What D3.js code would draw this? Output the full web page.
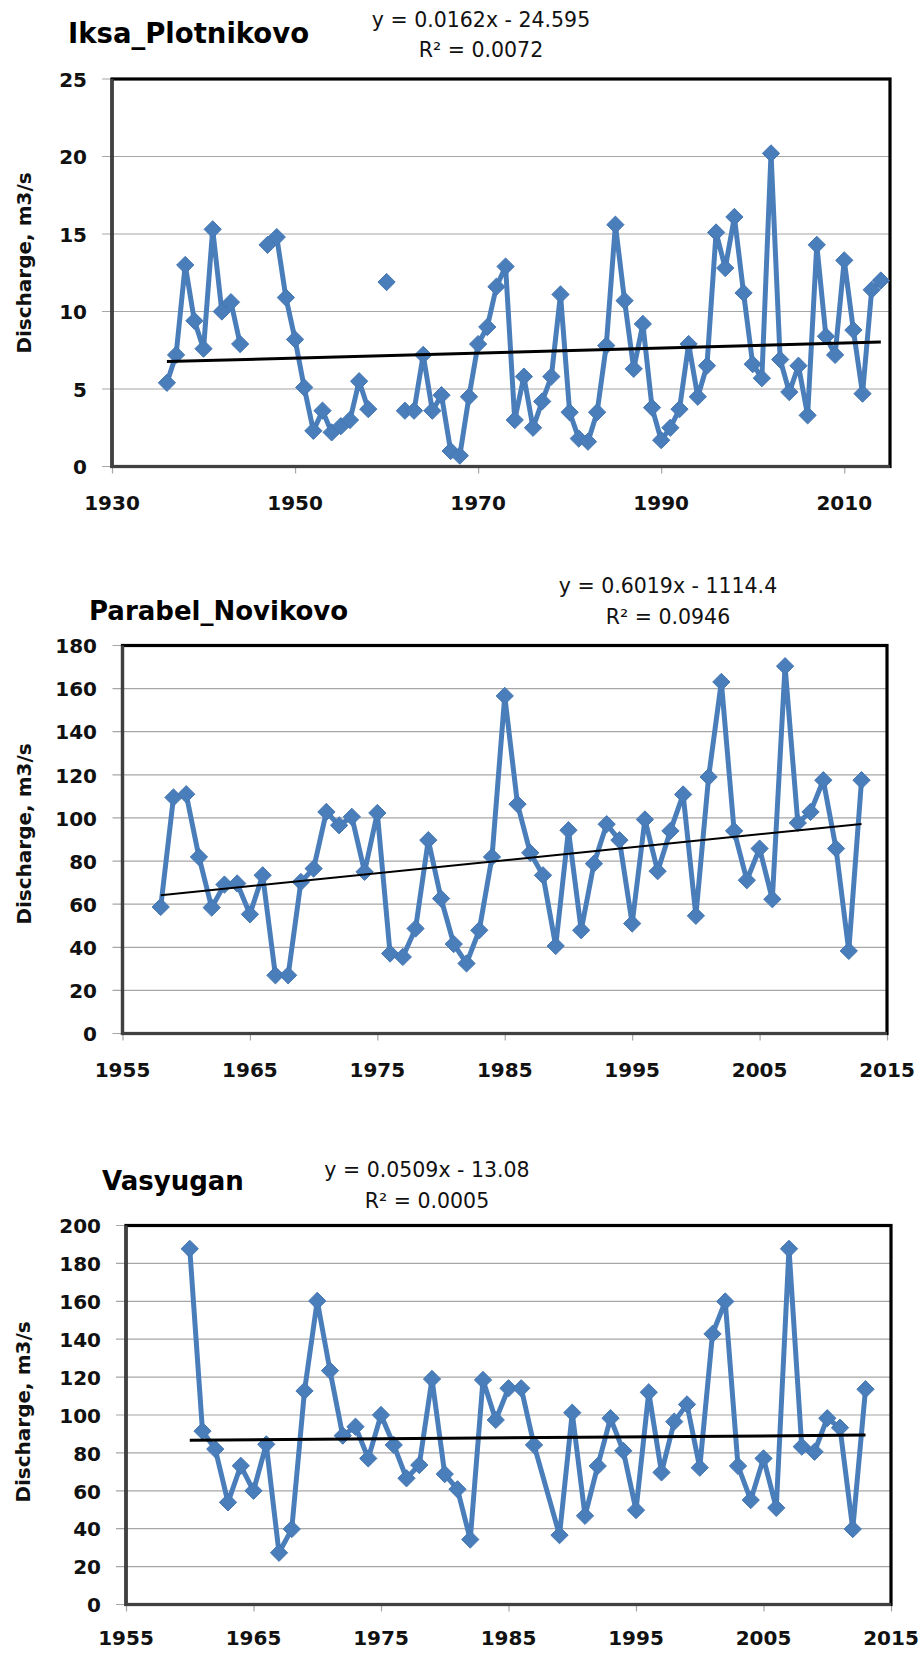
<!DOCTYPE html>
<html>
<head>
<meta charset="utf-8">
<script src="https://cdn.jsdelivr.net/npm/d3@7"></script>
<style>
  html, body { margin: 0; padding: 0; background: #fff; }
  svg { display: block; }
</style>
</head>
<body>
<svg id="chart" width="919" height="1662"></svg>
<script>
// ---------------- DATA ----------------
const iksaTitle = "Iksa_Plotnikovo";
const iksaYears = [1936,1937,1938,1939,1940,1941,1942,1943,1944,1945,1946,1947,1948,1949,1950,1951,1952,1953,1954,1955,1956,1957,1958,1959,1960,1961,1962,1963,1964,1965,1966,1967,1968,1969,1970,1971,1972,1973,1974,1975,1976,1977,1978,1979,1980,1981,1982,1983,1984,1985,1986,1987,1988,1989,1990,1991,1992,1993,1994,1995,1996,1997,1998,1999,2000,2001,2002,2003,2004,2005,2006,2007,2008,2009,2010,2011,2012,2013,2014];
const iksaValues = [5.4,7.2,13.0,9.4,7.6,15.3,10.0,10.6,7.9,null,null,14.3,14.8,10.9,8.2,5.1,2.3,3.6,2.2,2.6,3.0,5.5,3.7,null,11.9,null,3.6,3.6,7.2,3.6,4.6,1.0,0.7,4.5,7.9,9.0,11.6,12.9,3.0,5.8,2.5,4.2,5.8,11.1,3.5,1.8,1.6,3.5,7.8,15.6,10.7,6.3,9.2,3.8,1.7,2.5,3.7,7.9,4.5,6.5,15.1,12.8,16.1,11.2,6.6,5.7,20.2,6.9,4.8,6.5,3.3,14.3,8.4,7.2,13.3,8.8,4.7,11.4,12.0];
const iksaTrend = [0.0162, -24.595];
const iksaEquation = ["y = 0.0162x - 24.595", "R\u00B2 = 0.0072"];
const iksaXTicks = [1930,1950,1970,1990,2010];
const iksaYTicks = [0,5,10,15,20,25];

const parabelTitle = "Parabel_Novikovo";
const parabelYears = [1958,1959,1960,1961,1962,1963,1964,1965,1966,1967,1968,1969,1970,1971,1972,1973,1974,1975,1976,1977,1978,1979,1980,1981,1982,1983,1984,1985,1986,1987,1988,1989,1990,1991,1992,1993,1994,1995,1996,1997,1998,1999,2000,2001,2002,2003,2004,2005,2006,2007,2008,2009,2010,2011,2012,2013];
const parabelValues = [58.7,109.5,111,81.9,58.4,69.1,69.6,55.3,73.4,27,27,70.3,76.5,102.8,96.6,100.5,75,102.3,37.1,35.5,48.7,89.7,62.6,41.5,32.5,47.9,81.9,156.6,106.4,83.8,73.4,40.6,94.3,47.9,78.8,97.1,89.7,51,99.3,75.3,94,110.9,54.6,119,163.1,94,71.1,85.8,62.3,170.4,97.7,102.8,117.5,85.8,38.3,117.5];
const parabelTrend = [0.6019, -1114.4];
const parabelEquation = ["y = 0.6019x - 1114.4", "R\u00B2 = 0.0946"];
const parabelXTicks = [1955,1965,1975,1985,1995,2005,2015];
const parabelYTicks = [0,20,40,60,80,100,120,140,160,180];

const vasyuganTitle = "Vasyugan";
const vasyuganYears = [1960,1961,1962,1963,1964,1965,1966,1967,1968,1969,1970,1971,1972,1973,1974,1975,1976,1977,1978,1979,1980,1981,1982,1983,1984,1985,1986,1987,1989,1990,1991,1992,1993,1994,1995,1996,1997,1998,1999,2000,2001,2002,2003,2004,2005,2006,2007,2008,2009,2010,2011,2012,2013];
const vasyuganValues = [187.7,91.5,82,53.9,73.2,60,84.5,27.3,39.8,112.7,160.2,123.4,89.1,93.8,77.1,100,84.2,66.6,73.6,119,68.8,60.8,34.3,118.5,97.4,114.1,114.1,84.2,36.6,101.2,46.8,73.1,98.3,81.1,49.8,112,69.7,96.5,105.6,72.2,142.8,159.9,73.1,55.1,77.1,51,187.7,83.3,80.6,98.3,93.3,39.8,113.6];
const vasyuganTrend = [0.0509, -13.08];
const vasyuganEquation = ["y = 0.0509x - 13.08", "R\u00B2 = 0.0005"];
const vasyuganXTicks = [1955,1965,1975,1985,1995,2005,2015];
const vasyuganYTicks = [0,20,40,60,80,100,120,140,160,180,200];

const yAxisTitle = "Discharge, m3/s";

// ---------------- DRAWING ----------------
const svg = d3.select("#chart");
const BLUE = "#4a7ebb";
const FONT = "'DejaVu Sans', sans-serif";

function panel(cfg) {
  const g = svg.append("g");
  const x = d3.scaleLinear().domain(cfg.xDomain).range([cfg.left, cfg.right]);
  const y = d3.scaleLinear().domain(cfg.yDomain).range([cfg.bottom, cfg.top]);

  // gridlines (with outward tick extension)
  g.append("g").selectAll("line").data(cfg.yTicks).join("line")
    .attr("x1", cfg.left - 10).attr("x2", cfg.right)
    .attr("y1", d => y(d)).attr("y2", d => y(d))
    .attr("stroke", "#a6a6a6").attr("stroke-width", 1.2);

  // x axis ticks
  const xAxis = d3.axisBottom(x).tickValues(cfg.xTicks).tickSize(7).tickFormat(d3.format("d"));
  const xg = g.append("g").attr("transform", `translate(0,${cfg.bottom})`).call(xAxis);
  xg.select(".domain").remove();
  xg.selectAll(".tick line").attr("stroke", "#a6a6a6").attr("stroke-width", 1.2);
  xg.selectAll(".tick text").remove();
  g.append("g").selectAll("text").data(cfg.xTicks).join("text")
    .attr("x", d => x(d)).attr("y", cfg.xLabelY)
    .attr("text-anchor", "middle")
    .attr("font-family", FONT).attr("font-weight", "bold").attr("font-size", 20)
    .attr("fill", "#111").text(d => d);

  // y axis labels
  const yAxis = d3.axisLeft(y).tickValues(cfg.yTicks).tickSize(0).tickFormat(d3.format("d"));
  const yg = g.append("g").attr("transform", `translate(${cfg.yLabelRight},0)`).call(yAxis);
  yg.select(".domain").remove();
  yg.selectAll(".tick text")
    .attr("x", 0).attr("dy", "0.36em")
    .attr("font-family", FONT).attr("font-weight", "bold").attr("font-size", 20)
    .attr("fill", "#111");

  // plot border: thick black top/right, dark grey axis lines left/bottom
  g.append("rect")
    .attr("x", cfg.left).attr("y", cfg.top)
    .attr("width", cfg.right - cfg.left).attr("height", cfg.bottom - cfg.top)
    .attr("fill", "none").attr("stroke", "#000").attr("stroke-width", 3.2);
  g.append("line").attr("x1", cfg.left).attr("x2", cfg.left)
    .attr("y1", cfg.top).attr("y2", cfg.bottom + 1.5)
    .attr("stroke", "#404040").attr("stroke-width", 3.2);
  g.append("line").attr("x1", cfg.left).attr("x2", cfg.right)
    .attr("y1", cfg.bottom).attr("y2", cfg.bottom)
    .attr("stroke", "#404040").attr("stroke-width", 3.2);

  // series
  const pts = cfg.years.map((yr, i) => ({ yr, v: cfg.values[i] }));
  const line = d3.line().defined(d => d.v != null).x(d => x(d.yr)).y(d => y(d.v));
  g.append("path").datum(pts).attr("d", line)
    .attr("fill", "none").attr("stroke", BLUE).attr("stroke-width", 5)
    .attr("stroke-linejoin", "round");

  const diamond = d3.symbol().type(d3.symbolDiamond2).size(cfg.markerArea);
  g.append("g").selectAll("path").data(pts.filter(d => d.v != null)).join("path")
    .attr("d", diamond)
    .attr("transform", d => `translate(${x(d.yr)},${y(d.v)})`)
    .attr("fill", BLUE).attr("stroke", "#4577b3").attr("stroke-width", 1);

  // trend line
  const valid = pts.filter(d => d.v != null);
  const x0 = valid[0].yr, x1 = valid[valid.length - 1].yr;
  const tr = [x0, x1].map(t => ({ yr: t, v: cfg.trend[0] * t + cfg.trend[1] }));
  g.append("path").datum(tr).attr("d", d3.line().x(d => x(d.yr)).y(d => y(d.v)))
    .attr("stroke", "#000").attr("stroke-width", cfg.trendWidth).attr("fill", "none");

  // title
  g.append("text").attr("x", cfg.titleX).attr("y", cfg.titleY)
    .attr("font-family", FONT).attr("font-weight", "bold").attr("font-size", cfg.titleSize)
    .attr("fill", "#000").text(cfg.title);

  // equation
  g.append("g").selectAll("text").data(cfg.equation).join("text")
    .attr("x", cfg.eqX).attr("y", (d, i) => cfg.eqY[i])
    .attr("text-anchor", "middle")
    .attr("font-family", FONT).attr("font-size", 20.5)
    .attr("fill", "#111").text(d => d);

  // y axis title
  g.append("text")
    .attr("transform", `translate(${cfg.yTitleX},${cfg.yTitleY}) rotate(-90)`)
    .attr("text-anchor", "middle").attr("dy", "0.35em")
    .attr("font-family", FONT).attr("font-weight", "bold").attr("font-size", 20)
    .attr("fill", "#111").text(yAxisTitle);
}

panel({
  title: iksaTitle, years: iksaYears, values: iksaValues, trend: iksaTrend, equation: iksaEquation,
  xTicks: iksaXTicks, yTicks: iksaYTicks, xDomain: [1930, 2015], yDomain: [0, 25],
  left: 112, right: 890, top: 79, bottom: 466.5,
  xLabelY: 510, yLabelRight: 87,
  titleX: 68, titleY: 43, titleSize: 27.5, eqX: 481, eqY: [27, 57],
  yTitleX: 24, yTitleY: 263, trendWidth: 3, markerArea: 190
});

panel({
  title: parabelTitle, years: parabelYears, values: parabelValues, trend: parabelTrend, equation: parabelEquation,
  xTicks: parabelXTicks, yTicks: parabelYTicks, xDomain: [1955, 2015], yDomain: [0, 180],
  left: 122.5, right: 887, top: 645.5, bottom: 1033.5,
  xLabelY: 1077, yLabelRight: 97,
  titleX: 89, titleY: 620, titleSize: 26, eqX: 668, eqY: [593, 624],
  yTitleX: 24, yTitleY: 834, trendWidth: 2, markerArea: 190
});

panel({
  title: vasyuganTitle, years: vasyuganYears, values: vasyuganValues, trend: vasyuganTrend, equation: vasyuganEquation,
  xTicks: vasyuganXTicks, yTicks: vasyuganYTicks, xDomain: [1955, 2015], yDomain: [0, 200],
  left: 126, right: 891, top: 1225.5, bottom: 1604.5,
  xLabelY: 1645, yLabelRight: 101,
  titleX: 102, titleY: 1190, titleSize: 26, eqX: 427, eqY: [1177, 1208],
  yTitleX: 23, yTitleY: 1412, trendWidth: 3, markerArea: 190
});
</script>
</body>
</html>
